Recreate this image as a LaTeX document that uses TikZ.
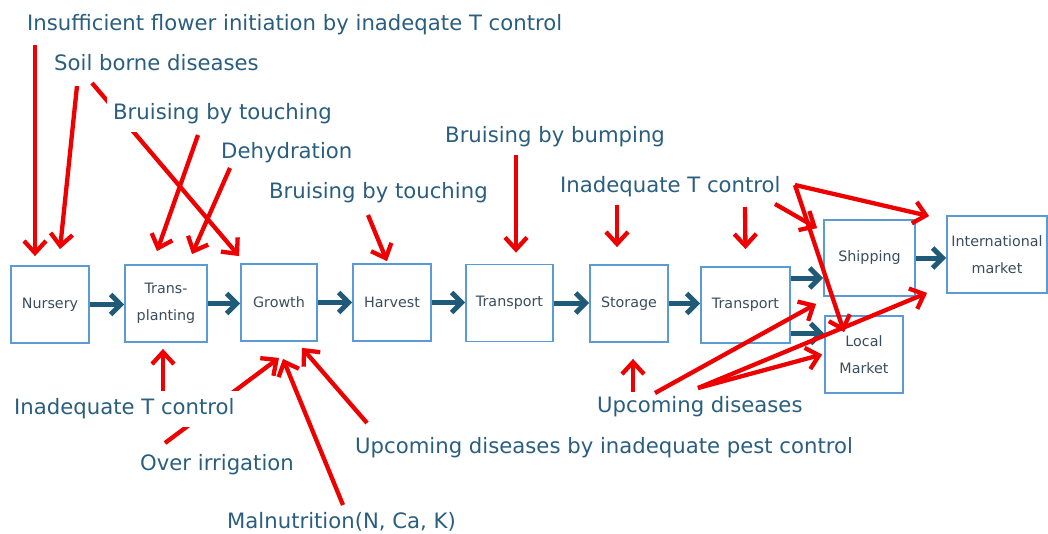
\documentclass[tikz,border=0pt]{standalone}
\usepackage{fontspec}
\setmainfont{DejaVu Sans}
\usetikzlibrary{arrows.meta}
\definecolor{boxline}{HTML}{5B9BD5}
\definecolor{boxtext}{HTML}{3A4D5C}
\definecolor{labeltext}{HTML}{2A5E7E}
\definecolor{flowblue}{HTML}{1F5A78}
\definecolor{riskred}{HTML}{EE0000}

\begin{document}
\begin{tikzpicture}[x=1pt,y=-1pt,
  stage/.style={draw=boxline,line width=1.8pt,fill=white,text=boxtext,
    align=center,font=\fontsize{14.3}{27}\selectfont,inner sep=0pt,minimum height=77pt},
  flow/.style={-{Straight Barb[length=10pt,width=20pt]},line width=5pt,draw=flowblue},
  risk/.style={-{Straight Barb[length=12pt,width=22pt]},line width=4.3pt,draw=riskred},
  cause/.style={anchor=west,text=labeltext,font=\fontsize{21.2}{25}\selectfont,inner sep=0pt},
  gap/.style={cause,fill=white,inner xsep=6pt,inner ysep=8pt}]
\useasboundingbox (0,0) rectangle (1048,533);
\node[stage,minimum width=78pt] (nursery) at (50,304.5) {Nursery};
\node[stage,minimum width=82pt] (transpl) at (166,303.5) {Trans-\\planting};
\node[stage,minimum width=76pt] (growth) at (279,302.5) {Growth};
\node[stage,minimum width=78pt] (harvest) at (392,302.5) {Harvest};
\node[stage,minimum width=87pt] (transpA) at (509.5,303) {Transport};
\node[stage,minimum width=78pt] (storage) at (629,303.5) {Storage};
\node[stage,minimum width=89pt,minimum height=76pt] (transpB) at (745.5,305) {Transport};
\node[stage,minimum width=91pt,minimum height=76pt] (shipping) at (869.5,258) {Shipping};
\node[stage,minimum width=78pt] (localmkt) at (864,354.5) {Local\\Market};
\node[stage,minimum width=100pt] (intlmkt) at (997,254.5) {International\\market};
\coordinate (toship) at ([yshift=-20pt]shipping.west);
\coordinate (tolocal) at ([yshift=21pt]localmkt.west);
\draw[flow] (nursery) -- (nursery -| transpl.west);
\draw[flow] (transpl) -- (transpl -| growth.west);
\draw[flow] (growth) -- (growth -| harvest.west);
\draw[flow] (harvest) -- (harvest -| transpA.west);
\draw[flow] (transpA) -- (transpA -| storage.west);
\draw[flow] (storage) -- (storage -| transpB.west);
\draw[flow] (transpB.east |- toship) -- (toship);
\draw[flow] (transpB.east |- tolocal) -- (tolocal);
\draw[flow] (shipping) -- (shipping -| intlmkt.west);
\coordinate (insufT) at (35,45);
\coordinate (soilT) at (77,86);
\coordinate (soilU) at (92,83);
\coordinate (touchT) at (198,135);
\coordinate (dehydT) at (230,168);
\coordinate (touchU) at (368,215);
\coordinate (bumpT) at (516,155);
\coordinate (tempT) at (617,205);
\coordinate (tempU) at (745,207);
\coordinate (tempV) at (795,185);
\coordinate (tempW) at (775,204);
\coordinate (coolT) at (163,397);
\coordinate (irrigT) at (165,443);
\coordinate (nutriT) at (343,505);
\coordinate (pestT) at (367,423);
\coordinate (diseaseT) at (633,392);
\coordinate (diseaseU) at (655,393);
\coordinate (diseaseV) at (698,388);
\draw[risk] (insufT) -- ([xshift=-15pt,yshift=9pt]nursery.north);
\draw[risk] (soilT) -- ([xshift=10pt,yshift=16pt]nursery.north);
\draw[risk] (soilU) -- ([xshift=-1pt,yshift=7pt]growth.north west);
\draw[risk] (touchT) -- ([xshift=-9pt,yshift=13pt]transpl.north);
\draw[risk] (dehydT) -- ([xshift=26pt,yshift=10pt]transpl.north);
\draw[risk] (touchU) -- ([xshift=-5pt,yshift=2pt]harvest.north);
\draw[risk] (bumpT) -- ([xshift=6.5pt,yshift=11pt]transpA.north);
\draw[risk] (tempT) -- ([xshift=-12pt,yshift=17pt]storage.north);
\draw[risk] (tempU) -- ([yshift=17pt]transpB.north);
\draw[risk] (tempV) -- ([xshift=-17pt,yshift=-1pt]intlmkt.north west);
\draw[risk] (tempV) -- ([xshift=20pt,yshift=-17pt]localmkt.north west);
\draw[risk] (tempW) -- ([xshift=-6pt,yshift=-9pt]shipping.north west);
\draw[risk] (coolT) -- ([xshift=-3pt,yshift=-6pt]transpl.south);
\draw[risk] (irrigT) -- ([yshift=-16pt]growth.south);
\draw[risk] (nutriT) -- ([xshift=4pt,yshift=-17pt]growth.south);
\draw[risk] (pestT) -- ([xshift=23pt,yshift=-6pt]growth.south);
\draw[risk] (diseaseT) -- ([xshift=4pt,yshift=-16pt]storage.south);
\draw[risk] (diseaseU) -- ([xshift=-7pt,yshift=-7pt]shipping.south west);
\draw[risk] (diseaseV) -- ([xshift=-19pt,yshift=1pt]intlmkt.south west);
\draw[risk] (diseaseV) -- ([xshift=-2pt]localmkt.west);
\node[cause] (insuf) at (27,25) {Insufficient flower initiation by inadeqate T control};
\node[cause] (soil) at (54,63) {Soil borne diseases};
\node[gap] (touchA) at (107,114) {Bruising by touching};
\node[cause] (dehyd) at (221,153) {Dehydration};
\node[cause] (touchB) at (269,193) {Bruising by touching};
\node[cause] (bump) at (445,137) {Bruising by bumping};
\node[cause] (tempA) at (560,187) {Inadequate T control};
\node[gap] (tempB) at (8,409) {Inadequate T control};
\node[cause] (irrig) at (140,465) {Over irrigation};
\node[cause] (nutri) at (227,522) {Malnutrition(N, Ca, K)};
\node[cause] (pest) at (355,448) {Upcoming diseases by inadequate pest control};
\node[cause] (disease) at (597,407) {Upcoming diseases};
\end{tikzpicture}
\end{document}
